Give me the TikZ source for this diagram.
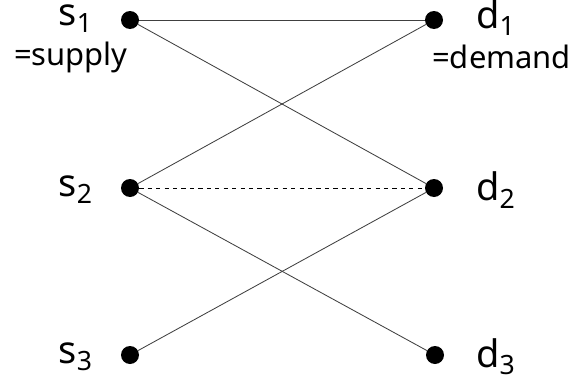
\documentclass[tikz,border=0pt]{standalone}
\usepackage{fontspec}
\setmainfont{Noto Sans}
\usetikzlibrary{positioning}

\begin{document}
\begin{tikzpicture}[
        x=0.025cm, y=-0.025cm,
        dot/.style={circle, fill=black, inner sep=0pt, minimum width=17*0.025cm, minimum height=18*0.025cm},
        varlabel/.style={font=\fontsize{27}{30}\selectfont, inner sep=0pt},
        notelabel/.style={font=\fontsize{22}{26}\selectfont, inner sep=0pt},
        arc/.style={draw=black!75, line width=0.6pt}
    ]

    \useasboundingbox (0,0) rectangle (574,382);

    % supply points
    \node[dot] (s1) at (130, 20) {};
    \node[dot] (s2) at (130, 188) {};
    \node[dot] (s3) at (130, 355) {};

    % demand points
    \node[dot] (d1) at (434, 20) {};
    \node[dot] (d2) at (434, 188) {};
    \node[dot] (d3) at (435, 355) {};

    % labels
    \node[varlabel, anchor=east] (s1lab) at (93, 19) {s\textsubscript{1}};
    \node[notelabel, anchor=east] (supply) at (128, 57) {=supply};
    \node[varlabel, anchor=east] (s2lab) at (93, 190) {s\textsubscript{2}};
    \node[varlabel, anchor=east] (s3lab) at (93, 357) {s\textsubscript{3}};
    \node[varlabel, anchor=west] (d1lab) at (476, 18) {d\textsubscript{1}};
    \node[notelabel, anchor=west] (demand) at (432, 57) {=demand};
    \node[varlabel, anchor=west] (d2lab) at (476, 190) {d\textsubscript{2}};
    \node[varlabel, anchor=west] (d3lab) at (476, 357) {d\textsubscript{3}};

    % arcs
    \draw[arc] (s1) -- (d1);
    \draw[arc] (s1) -- (d2);
    \draw[arc] (s2) -- (d1);
    \draw[arc, draw=black, dashed] (s2) -- (d2);
    \draw[arc] (s2) -- (d3);
    \draw[arc] (s3) -- (d2);

\end{tikzpicture}
\end{document}
